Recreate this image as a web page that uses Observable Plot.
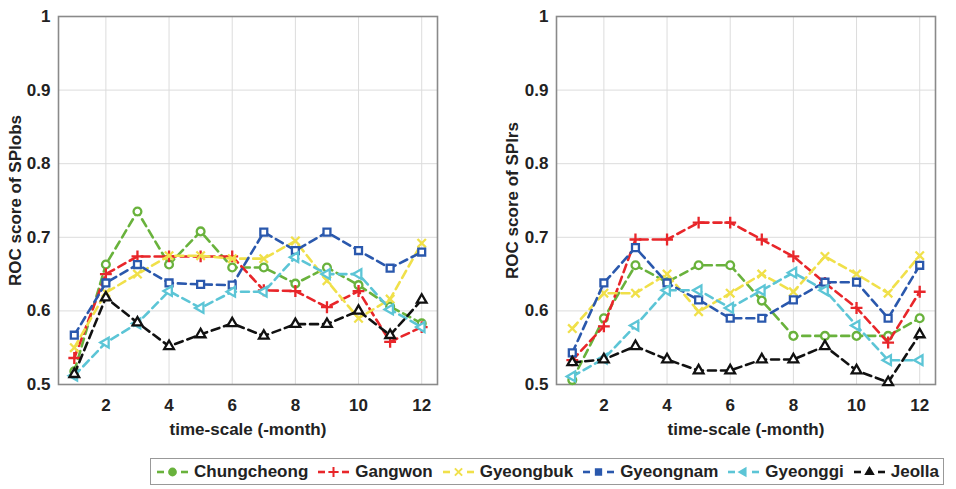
<!DOCTYPE html>
<html><head><meta charset="utf-8">
<script src="https://cdn.jsdelivr.net/npm/d3@7"></script>
<script src="https://cdn.jsdelivr.net/npm/@observablehq/plot@0.6"></script>
<style>
body{margin:0;background:#fff;font-family:"Liberation Sans",Arial,sans-serif;}
#root{position:relative;width:956px;height:489px;overflow:hidden;}
.panel{position:absolute;top:0;}
#legend{position:absolute;left:150px;top:458px;width:794px;height:27px;border:1.5px solid #999;box-sizing:border-box;display:flex;align-items:center;justify-content:space-between;padding:0 4px 0 5px;font-weight:bold;font-size:17px;color:#222;}
.item{display:flex;align-items:center;}
.item svg{margin-right:5px;}
</style></head>
<body><div id="root"><div id="left" class="panel" style="left:0"></div><div id="right" class="panel" style="left:478px"></div><div id="legend"></div></div>
<script>
const months = [1,2,3,4,5,6,7,8,9,10,11,12];
const regions = ["Chungcheong","Gangwon","Gyeongbuk","Gyeongnam","Gyeonggi","Jeolla"];
const colors = ["#69b23c","#e8262a","#f0e04a","#2a58ad","#5cc5d6","#111111"];
const symbols = ["circle","plus","times","square","triangle","triangle"];
const rotations = [0,0,0,0,-90,0];
const xTicks = [2,4,6,8,10,12];
const yTicks = [0.5,0.6,0.7,0.8,0.9,1];

// SPIobs (left panel)
const obsChungcheong = [0.518,0.663,0.735,0.663,0.708,0.659,0.659,0.637,0.659,0.635,0.606,0.583];
const obsGangwon     = [0.536,0.650,0.674,0.674,0.674,0.674,0.628,0.627,0.605,0.627,0.558,0.578];
const obsGyeongbuk   = [0.550,0.625,0.650,0.675,0.675,0.671,0.671,0.695,0.641,0.590,0.616,0.692];
const obsGyeongnam   = [0.567,0.638,0.663,0.638,0.636,0.635,0.707,0.682,0.707,0.682,0.658,0.680];
const obsGyeonggi    = [0.512,0.557,0.583,0.627,0.604,0.626,0.626,0.673,0.650,0.650,0.602,0.578];
const obsJeolla      = [0.514,0.618,0.584,0.552,0.568,0.583,0.566,0.582,0.582,0.600,0.567,0.615];

// SPIrs (right panel)
const rsChungcheong = [0.506,0.590,0.662,0.639,0.662,0.662,0.614,0.566,0.566,0.566,0.566,0.590];
const rsGangwon     = [0.533,0.579,0.697,0.697,0.720,0.720,0.697,0.674,0.638,0.604,0.557,0.626];
const rsGyeongbuk   = [0.576,0.624,0.624,0.650,0.599,0.624,0.650,0.626,0.674,0.650,0.624,0.675];
const rsGyeongnam   = [0.543,0.638,0.686,0.638,0.615,0.590,0.590,0.615,0.639,0.639,0.590,0.662];
const rsGyeonggi    = [0.511,0.535,0.580,0.628,0.628,0.604,0.628,0.652,0.628,0.580,0.533,0.533];
const rsJeolla      = [0.530,0.534,0.552,0.534,0.519,0.519,0.534,0.534,0.552,0.519,0.503,0.568];

const obsSeries = [obsChungcheong,obsGangwon,obsGyeongbuk,obsGyeongnam,obsGyeonggi,obsJeolla];
const rsSeries = [rsChungcheong,rsGangwon,rsGyeongbuk,rsGyeongnam,rsGyeonggi,rsJeolla];

const yFmt = d => String(+d.toFixed(1));

function panel(series, label, ml, mr, labelOffset) {
  const rows = regions.flatMap((r,i) => months.map((m,j) => ({month:m, value:series[i][j], region:r})));
  const marks = [
    Plot.gridX(xTicks, {stroke:"#dcdcdc", strokeOpacity:1}),
    Plot.gridY(yTicks, {stroke:"#dcdcdc", strokeOpacity:1}),
    Plot.axisX(xTicks, {tickSize:0, tickPadding:14, fontSize:17, fontWeight:"bold", label:"time-scale (-month)", labelAnchor:"center", labelOffset:50, labelArrow:"none"}),
    Plot.axisY(yTicks, {tickSize:0, tickPadding:8, fontSize:17, fontWeight:"bold", tickFormat:yFmt, label, labelAnchor:"center", labelOffset, labelArrow:"none"}),
    Plot.frame({stroke:"#8a8a8a", strokeWidth:1.6})
  ];
  regions.forEach((r,i) => {
    const d = rows.filter(o => o.region === r);
    marks.push(Plot.line(d, {x:"month", y:"value", stroke:"region", strokeWidth:2.6, strokeDasharray:"8,5"}));
    marks.push(Plot.dot(d, {x:"month", y:"value", stroke:"region", symbol:"region", fill: (i===1||i===2) ? "none" : "white", r: i>=4 ? 3.6 : 3.9, strokeWidth:2.3, rotate:rotations[i]}));
  });
  return Plot.plot({
    width:478, height:445,
    marginLeft:ml, marginRight:mr, marginTop:16, marginBottom:61,
    x:{domain:[0.5,12.5]},
    y:{domain:[0.5,1]},
    color:{domain:regions, range:colors},
    symbol:{domain:regions, range:symbols},
    style:{fontFamily:"'Liberation Sans', Arial, sans-serif", fontSize:"18px", fontWeight:"bold", color:"#222", background:"transparent"},
    marks
  });
}

document.getElementById("left").appendChild(panel(obsSeries, "ROC score of SPIobs", 58, 41, 50));
document.getElementById("right").appendChild(panel(rsSeries, "ROC score of SPIrs", 78, 21, 51));

// legend
const d3Symbols = {
  circle: d3.symbolCircle,
  plus: d3.symbolPlus || d3.symbolCross,
  times: d3.symbolTimes || d3.symbolX || d3.symbolCross,
  square: d3.symbolSquare2 || d3.symbolSquare,
  triangle: d3.symbolTriangle2 || d3.symbolTriangle
};
const leg = document.getElementById("legend");
regions.forEach((r,i) => {
  const item = document.createElement("div");
  item.className = "item";
  const svg = d3.create("svg").attr("width",33).attr("height",14);
  svg.append("line").attr("x1",1).attr("x2",8).attr("y1",7).attr("y2",7).attr("stroke",colors[i]).attr("stroke-width",2.6);
  svg.append("line").attr("x1",25).attr("x2",32).attr("y1",7).attr("y2",7).attr("stroke",colors[i]).attr("stroke-width",2.6);
  const sym = d3.symbol(d3Symbols[symbols[i]], 36)();
  const strokeOnly = (i===1||i===2);
  svg.append("path").attr("d",sym).attr("transform",`translate(16.5,7) rotate(${rotations[i]})`)
    .attr("fill",strokeOnly?"none":colors[i]).attr("stroke",colors[i]).attr("stroke-width",2);
  item.appendChild(svg.node());
  const t = document.createElement("span");
  t.textContent = r;
  item.appendChild(t);
  leg.appendChild(item);
});
</script>
</body></html>
